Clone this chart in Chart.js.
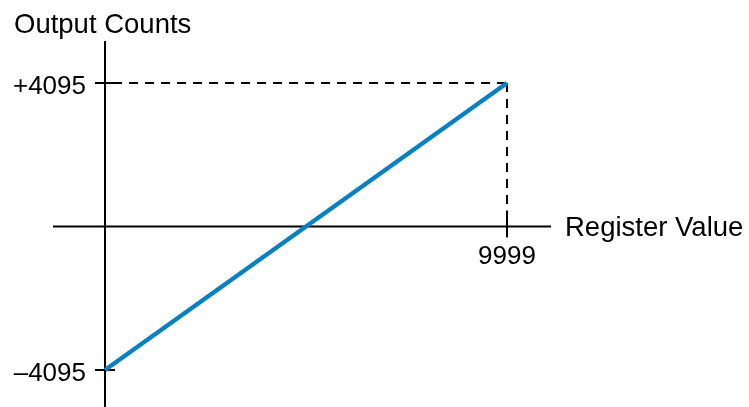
<!DOCTYPE html>
<html lang="en">
<head>
<meta charset="UTF-8">
<title>Output Counts vs Register Value</title>
<script src="https://cdn.jsdelivr.net/npm/chart.js"></script>
<style>
    body { margin: 0; background: #fff; }
    #wrap { width: 749px; height: 407px; }
</style>
</head>
<body>
<div id="wrap"><canvas id="chart" width="749" height="407"></canvas></div>
<script>
// data
const registerValues = [0, 9999];
const outputCounts = [-4095, 4095];
const xTicks = [9999];
const yTicks = [4095, -4095];
const yTickLabels = ['+4095', '\u20134095'];
const xTitle = 'Register Value';
const yTitle = 'Output Counts';

const TICK_FONT = '26px "Liberation Sans", Arial, sans-serif';
const TITLE_FONT = '27.5px "Liberation Sans", Arial, sans-serif';

// draws axes crossing at zero, ticks and dashed guides
const axesPlugin = {
    id: 'axesPlugin',
    beforeDatasetsDraw(chart) {
        const ctx = chart.ctx;
        const xs = chart.scales.x, ys = chart.scales.y;
        const area = chart.chartArea;
        const x0 = xs.getPixelForValue(0);
        const y0 = ys.getPixelForValue(0);
        ctx.save();
        ctx.strokeStyle = '#000';
        ctx.lineWidth = 2;

        // dashed guides to max point
        const xm = xs.getPixelForValue(xTicks[0]);
        const ym = ys.getPixelForValue(yTicks[0]);
        ctx.setLineDash([9, 7]);
        ctx.beginPath();
        ctx.moveTo(x0 + 8, ym);
        ctx.lineTo(xm, ym);
        ctx.moveTo(xm, ym);
        ctx.lineTo(xm, y0);
        ctx.stroke();
        ctx.setLineDash([]);

        // axis lines
        ctx.beginPath();
        ctx.moveTo(area.left, y0);
        ctx.lineTo(area.right, y0);
        ctx.moveTo(x0, area.top);
        ctx.lineTo(x0, area.bottom);
        ctx.stroke();

        // ticks
        ctx.beginPath();
        xTicks.forEach(v => {
            const px = xs.getPixelForValue(v);
            ctx.moveTo(px, y0 - 16);
            ctx.lineTo(px, y0 + 11);
        });
        yTicks.forEach(v => {
            const py = ys.getPixelForValue(v);
            ctx.moveTo(x0 - 10, py);
            ctx.lineTo(x0 + 10, py);
        });
        ctx.stroke();

        // labels
        ctx.fillStyle = '#000';
        ctx.font = TICK_FONT;
        ctx.textAlign = 'center';
        ctx.textBaseline = 'alphabetic';
        xTicks.forEach(v => ctx.fillText(String(v), xs.getPixelForValue(v), y0 + 37));
        ctx.textAlign = 'right';
        yTicks.forEach((v, i) => ctx.fillText(yTickLabels[i], x0 - 19, ys.getPixelForValue(v) + 11));
        ctx.font = TITLE_FONT;
        ctx.textAlign = 'left';
        ctx.fillText(xTitle, area.right + 14, y0 + 9);
        ctx.fillText(yTitle, 14, 33);
        ctx.restore();
    }
};

new Chart(document.getElementById('chart'), {
    type: 'line',
    data: {
        datasets: [{
            data: registerValues.map((x, i) => ({ x: x, y: outputCounts[i] })),
            borderColor: '#0a80c4',
            borderWidth: 4.5,
            pointRadius: 0,
            tension: 0,
            borderCapStyle: 'butt'
        }]
    },
    options: {
        responsive: false,
        animation: false,
        layout: { padding: { left: 53, right: 198, top: 41, bottom: 0 } },
        plugins: { legend: { display: false }, tooltip: { enabled: false } },
        scales: {
            x: { type: 'linear', min: -1293, max: 11093, display: false },
            y: { type: 'linear', min: -5151, max: 5294, display: false }
        }
    },
    plugins: [axesPlugin]
});
</script>
</body>
</html>
